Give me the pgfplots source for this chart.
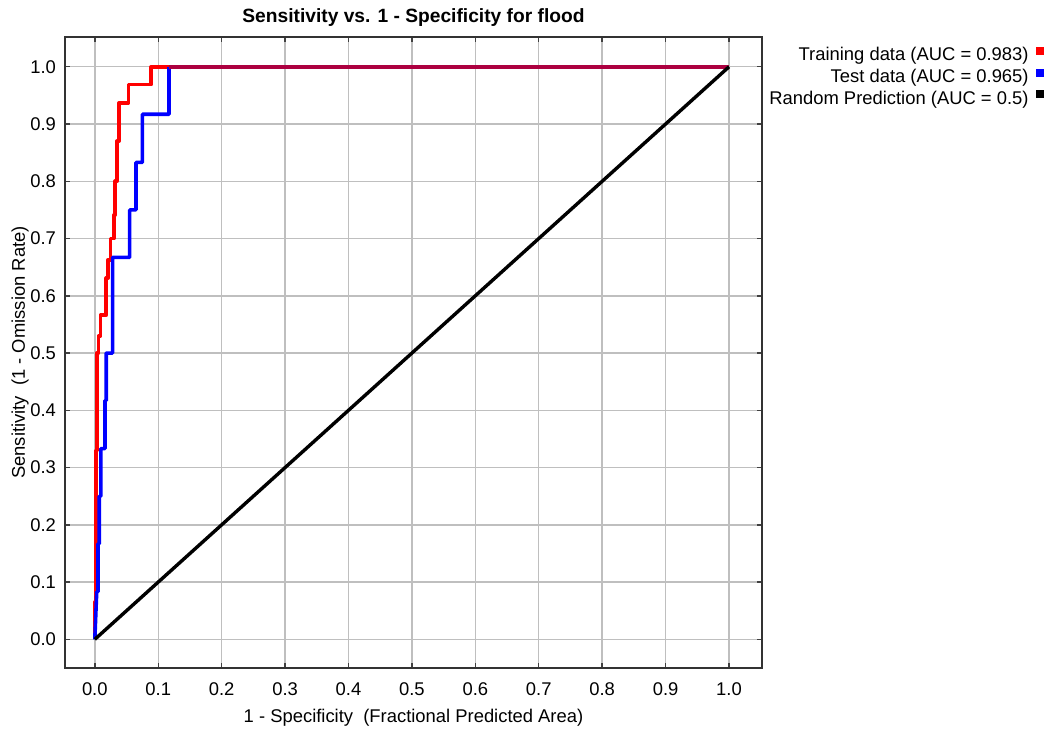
\documentclass[border=0pt]{standalone}
\usepackage{fontspec}
\setmainfont{Liberation Sans}
\usepackage{pgfplots}
\pgfplotsset{compat=1.18}
\definecolor{overlap}{RGB}{172,0,64}
\begin{document}
\begin{tikzpicture}
\useasboundingbox (-32.5pt,-32.5pt) rectangle (496pt,334pt);
\begin{axis}[
  at={(0,0)}, anchor=south west,
  scale only axis, width=348.5pt, height=315.5pt,
  xmin=-0.047, xmax=1.052, ymin=-0.05, ymax=1.052,
  xtick={0,0.1,0.2,0.3,0.4,0.5,0.6,0.7,0.8,0.9,1.0},
  ytick={0,0.1,0.2,0.3,0.4,0.5,0.6,0.7,0.8,0.9,1.0},
  /pgf/number format/assume math mode=true,
  /pgf/number format/fixed, /pgf/number format/fixed zerofill, /pgf/number format/precision=1,
  grid=major, major grid style={black!25, line width=0.7pt},
  tick align=inside, major tick length=2.5pt,
  tick style={black!75, line width=0.7pt},
  axis line style={black!80, line width=0.7pt},
  tick label style={font=\fontsize{9.2pt}{11pt}\selectfont},
  xticklabel shift=4pt,
  yticklabel shift=1pt,
  label style={font=\fontsize{9.2pt}{11pt}\selectfont},
  xlabel={1 - Specificity\ \ (Fractional Predicted Area)},
  ylabel={Sensitivity\ \ (1 - Omission Rate)},
  xlabel style={at={(0.5,0)}, anchor=center, yshift=-25pt},
  ylabel style={at={(0,0.5)}, anchor=center, yshift=22.5pt},
  title={Sensitivity vs. 1 - Specificity for flood},
  title style={font=\bfseries\fontsize{9.6pt}{11pt}\selectfont, at={(0.5,1)}, anchor=center, yshift=3.5pt},
  legend style={at={(1,1)}, anchor=north east, xshift=144pt, yshift=-1pt,
    draw=none, fill=none, font=\fontsize{9.2pt}{11pt}\selectfont, row sep=-1.3pt,
    /tikz/every odd column/.append style={column sep=1.5pt}},
  legend cell align=right, legend plot pos=right,
  legend image code/.code={\fill[#1, draw=none] (0pt,0.3pt) rectangle (4pt,4.3pt);},
]
\addplot[red, line width=1.8pt, line join=round] coordinates {
(0,0) (0,0.065) (0.002,0.065) (0.002,0.33) (0.003,0.33) (0.003,0.50)
(0.006,0.50) (0.006,0.53) (0.009,0.53) (0.009,0.566) (0.018,0.566)
(0.018,0.631) (0.021,0.631) (0.021,0.663) (0.025,0.663) (0.025,0.70)
(0.030,0.70) (0.030,0.741) (0.032,0.741) (0.032,0.80) (0.035,0.80)
(0.035,0.87) (0.038,0.87) (0.038,0.937) (0.053,0.937) (0.053,0.969)
(0.089,0.969) (0.089,1.0) (1.0,1.0)};
\addlegendentry{Training data (AUC = 0.983)}
\addplot[blue, line width=1.8pt, line join=round] coordinates {
(0,0) (0.003,0.083) (0.005,0.083) (0.005,0.167) (0.007,0.167) (0.007,0.25)
(0.0095,0.25) (0.0095,0.333) (0.016,0.333) (0.016,0.417) (0.018,0.417)
(0.018,0.50) (0.028,0.50) (0.028,0.667) (0.055,0.667) (0.055,0.75)
(0.065,0.75) (0.065,0.833) (0.075,0.833) (0.075,0.917) (0.117,0.917)
(0.117,1.0)};
\addlegendentry{Test data (AUC = 0.965)}
\addplot[overlap, line width=1.8pt, forget plot] coordinates {(0.117,1.0) (1.0,1.0)};
\addplot[black, line width=1.7pt] coordinates {(0,0) (1,1)};
\addlegendentry{Random Prediction (AUC = 0.5)}
\end{axis}
\end{tikzpicture}
\end{document}
